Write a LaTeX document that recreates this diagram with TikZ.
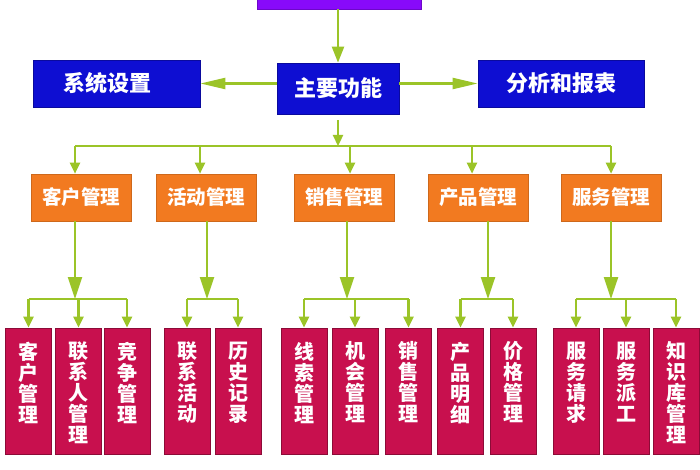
\documentclass[tikz,border=0pt]{standalone}
\usepackage{fontspec}
\newfontfamily\cjk{Noto Sans CJK SC}
\usetikzlibrary{arrows.meta}
\definecolor{mgreen}{RGB}{155,196,40}
\definecolor{mblue}{RGB}{14,14,210}
\definecolor{mpurple}{RGB}{136,10,250}
\definecolor{morange}{RGB}{242,122,32}
\definecolor{mred}{RGB}{200,16,78}
\begin{document}
\begin{tikzpicture}[x=1pt,y=-1pt,
  basebox/.style={inner sep=0pt, text=white},
  purplebox/.style={basebox, fill=mpurple, draw=mpurple!80!black, line width=0.8pt},
  bluebox/.style={basebox, fill=mblue, draw=mblue!75!black, line width=0.8pt,
    font=\cjk\bfseries\fontsize{22}{24}\selectfont},
  orangebox/.style={basebox, fill=morange, draw=morange!85!black, line width=0.6pt,
    minimum width=100pt, minimum height=47pt,
    font=\cjk\bfseries\fontsize{19.5}{22}\selectfont},
  redbox/.style={basebox, fill=mred, draw=mred!70!black, line width=0.8pt,
    minimum width=46pt, minimum height=126pt},
  vtext/.style={inner sep=0pt, text=white, align=center,
    font=\cjk\bfseries\fontsize{20}{21}\selectfont},
  conn/.style={draw=mgreen, line width=2.3pt},
  tipA/.style={-{Triangle[length=16pt,width=12pt]}},
  tipH/.style={-{Triangle[length=25pt,width=11pt]}},
  tipS/.style={-{Triangle[length=11pt,width=10pt]}},
  tipB/.style={-{Triangle[length=22pt,width=14pt]}}
]
\useasboundingbox (0,0) rectangle (700,470);
\clip (0,0) rectangle (700,470);
\fill[white] (0,0) rectangle (700,470);

% top level
\node[purplebox, minimum width=164pt, minimum height=20pt] (top) at (339,-1) {};
\node[bluebox, minimum width=122pt, minimum height=51pt] (main) at (338,88.5) {主要功能};
\node[bluebox, minimum width=167pt, minimum height=47pt] (sys) at (116.5,83.5) {\hspace*{-18pt}系统设置};
\node[bluebox, minimum width=166pt, minimum height=47pt] (rep) at (561,83.5) {分析和报表};

\draw[conn, tipA] (top.south -| main.north) -- (main.north);
\draw[conn, tipH] (main.west |- sys.east) -- (sys.east);
\draw[conn, tipH] (main.east |- rep.west) -- (rep.west);

% second level
\node[orangebox] (k1) at (81,197.5) {客户管理};
\node[orangebox] (k2) at (206,197.5) {活动管理};
\node[orangebox] (k3) at (344,197.5) {销售管理};
\node[orangebox] (k4) at (478,197.5) {产品管理};
\node[orangebox] (k5) at (611,197.5) {服务管理};

\coordinate (bus) at (338,146);
\coordinate (d1) at (75,146);
\coordinate (d2) at (200,146);
\coordinate (d3) at (350,146);
\coordinate (d4) at (472,146);
\coordinate (d5) at (611,146);
\draw[conn, tipS] ([yshift=-6pt]main.south -| bus) -- (bus);
\draw[conn] (d1) -- (d5);
\foreach \i in {1,...,5} {
  \draw[conn, tipS] (d\i) -- (d\i |- k\i.north);
}

% third level
\foreach \n/\x/\t in {
  r1/28.5/{客\\户\\管\\理},
  r2/78.5/{联\\系\\人\\管\\理},
  r3/127/{竞\\争\\管\\理},
  r4/187/{联\\系\\活\\动},
  r5/238/{历\\史\\记\\录},
  r6/304/{线\\索\\管\\理},
  r7/355/{机\\会\\管\\理},
  r8/408.5/{销\\售\\管\\理},
  r9/460.5/{产\\品\\明\\细},
  r10/513/{价\\格\\管\\理},
  r11/576/{服\\务\\请\\求},
  r12/626/{服\\务\\派\\工},
  r13/676/{知\\识\\库\\管\\理}} {
  \node[redbox, label={[vtext, anchor=north, yshift=-14pt]north:\t}] (\n) at (\x,391) {};
}

\coordinate (e1) at (75,299);
\coordinate (e2) at (207,299);
\coordinate (e3) at (347,299);
\coordinate (e4) at (488,299);
\coordinate (e5) at (611,299);
\foreach \i in {1,...,5} {
  \draw[conn, tipB] (k\i.south -| e\i) -- (e\i);
}
\foreach \a/\b/\e in {r1/r3/e1, r4/r5/e2, r6/r8/e3, r9/r10/e4, r11/r13/e5} {
  \draw[conn] (\a.north |- \e) -- (\b.north |- \e);
}
\foreach \r/\e in {r1/e1, r2/e1, r3/e1, r4/e2, r5/e2, r6/e3, r7/e3, r8/e3, r9/e4, r10/e4, r11/e5, r12/e5, r13/e5} {
  \draw[conn, tipS] (\r.north |- \e) -- (\r.north);
}
\end{tikzpicture}
\end{document}
